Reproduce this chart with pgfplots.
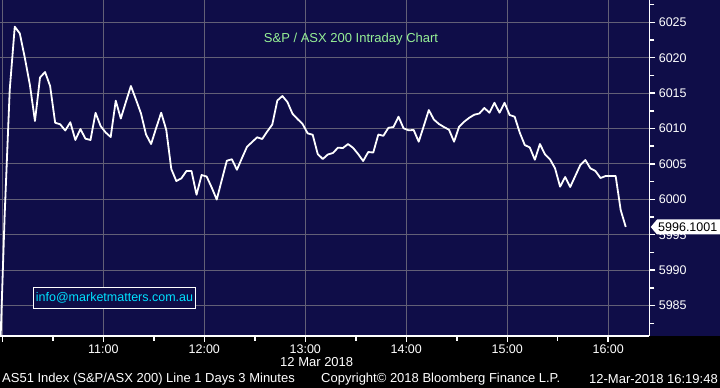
\documentclass[border=0pt]{standalone}
\usepackage{pgfplots}
\pgfplotsset{compat=1.18}
\usepackage{fontspec}
\setmainfont{Liberation Sans}
\definecolor{bgnavy}{RGB}{15,13,72}
\definecolor{gridc}{RGB}{98,95,118}
\definecolor{titleg}{RGB}{150,240,150}
\definecolor{infoc}{RGB}{0,225,255}
\pgfplotstableread{
m v
-1.6 5976.17
1.4 5997.78
4.4 6015.44
7.4 6024.38
10.4 6023.42
13.4 6019.96
16.4 6016.14
19.4 6011.06
22.4 6017.20
25.4 6017.98
28.4 6016.00
31.4 6010.82
34.4 6010.59
37.4 6009.72
40.4 6010.88
43.4 6008.38
46.4 6009.93
49.4 6008.56
52.4 6008.38
55.4 6012.22
58.4 6010.35
61.4 6009.44
64.4 6008.80
67.4 6013.93
70.4 6011.41
73.4 6013.74
76.4 6016.00
79.4 6014.10
82.4 6012.12
85.4 6009.15
88.4 6007.81
91.4 6010.07
94.4 6012.23
97.4 6009.83
100.4 6004.28
103.4 6002.58
106.4 6002.97
109.4 6004.00
112.4 6004.00
115.4 6000.65
118.4 6003.43
121.4 6003.22
124.4 6001.67
127.4 5999.97
130.4 6002.73
133.4 6005.45
136.4 6005.66
139.4 6004.18
142.4 6005.83
145.4 6007.43
148.4 6008.09
151.4 6008.76
154.4 6008.52
157.4 6009.58
160.4 6010.56
163.4 6013.95
166.4 6014.59
169.4 6013.74
172.4 6012.09
175.4 6011.34
178.4 6010.64
181.4 6009.32
184.4 6009.12
187.4 6006.40
190.4 6005.69
193.4 6006.33
196.4 6006.54
199.4 6007.29
202.4 6007.25
205.4 6007.81
208.4 6007.27
211.4 6006.40
214.4 6005.41
217.4 6006.68
220.4 6006.61
223.4 6009.15
226.4 6008.97
229.4 6010.10
232.4 6010.21
235.4 6011.67
238.4 6010.03
241.4 6009.75
244.4 6009.79
247.4 6008.14
250.4 6010.35
253.4 6012.61
256.4 6011.27
259.4 6010.64
262.4 6010.21
265.4 6009.83
268.4 6008.14
271.4 6010.25
274.4 6010.96
277.4 6011.51
280.4 6011.95
283.4 6012.12
286.4 6012.90
289.4 6012.23
292.4 6013.64
295.4 6012.23
298.4 6013.64
301.4 6011.91
304.4 6011.67
307.4 6009.44
310.4 6007.67
313.4 6007.32
316.4 6005.59
319.4 6007.81
322.4 6006.37
325.4 6005.65
328.4 6004.38
331.4 6001.78
334.4 6003.15
337.4 6001.74
340.4 6003.29
343.4 6004.84
346.4 6005.55
349.4 6004.38
352.4 6004.00
355.4 6003.01
358.4 6003.29
361.4 6003.29
364.4 6003.29
367.4 5998.49
370.4 5996.10
}\asx
\begin{document}
\begin{tikzpicture}
\useasboundingbox (0bp,0bp) rectangle (720bp,388bp);
\fill[black] (0bp,0bp) rectangle (720bp,388bp);
\fill[bgnavy] (0bp,52bp) rectangle (720bp,388bp);
\begin{axis}[
  at={(0bp,52bp)}, anchor=south west,
  scale only axis, width=649.3bp, height=336bp,
  xmin=-1.37, xmax=384.4, ymin=5980.7, ymax=6028.15,
  axis x line*=bottom, axis y line*=right,
  axis line style={white, line width=1.2bp},
  xtick={0,60,120,180,240,300,360},
  xticklabels={,11:00,12:00,13:00,14:00,15:00,16:00},
  minor xtick={30,90,150,210,270,330},
  ytick={5985,5990,5995,6000,6005,6010,6015,6020,6025},
  yticklabels={5985,5990,5995,6000,6005,6010,6015,6020,6025},
  minor ytick={5982.5,5987.5,5992.5,5997.5,6002.5,6007.5,6012.5,6017.5,6022.5,6027.5},
  xmajorgrids=true, ymajorgrids=true,
  major grid style={gridc, line width=1.1bp, solid},
  tick align=outside,
  major tick length=6bp, minor tick length=5bp,
  tick style={white, line width=1.5bp},
  tick label style={white, font=\fontsize{12.5bp}{14bp}\selectfont},
  xticklabel style={yshift=1bp},
]
\addplot[white, line width=1.8bp, line join=round] table[x=m, y=v] {\asx};
\end{axis}
\node[titleg, font=\fontsize{13bp}{15bp}\selectfont] at (351bp,348.7bp) {S\&P / ASX 200 Intraday Chart};
\node[draw=white, line width=1.5bp, fill=bgnavy, text=infoc, font=\fontsize{12.5bp}{14bp}\selectfont, minimum width=162bp, minimum height=21bp, inner sep=0pt] at (114.5bp,90bp) {info@marketmatters.com.au};
\node[white, font=\fontsize{13bp}{15bp}\selectfont] at (316.7bp,26.3bp) {12 Mar 2018};
\node[white, anchor=west, inner sep=0pt, font=\fontsize{13bp}{15bp}\selectfont] at (2bp,9bp) {AS51 Index (S\&P/ASX 200) Line 1 Days 3 Minutes};
\node[white, anchor=west, inner sep=0pt, font=\fontsize{13bp}{15bp}\selectfont] at (321bp,9bp) {Copyright© 2018 Bloomberg Finance L.P.};
\node[white, anchor=east, inner sep=0pt, font=\fontsize{13bp}{15bp}\selectfont] at (718bp,9bp) {12-Mar-2018 16:19:48};
\fill[white] (650.7bp,161bp) -- (657bp,168.5bp) -- (720bp,168.5bp) -- (720bp,153.5bp) -- (657bp,153.5bp) -- cycle;
\node[black, anchor=west, inner sep=1pt, font=\fontsize{12.5bp}{14bp}\selectfont] at (657bp,161bp) {5996.1001};
\end{tikzpicture}
\end{document}
